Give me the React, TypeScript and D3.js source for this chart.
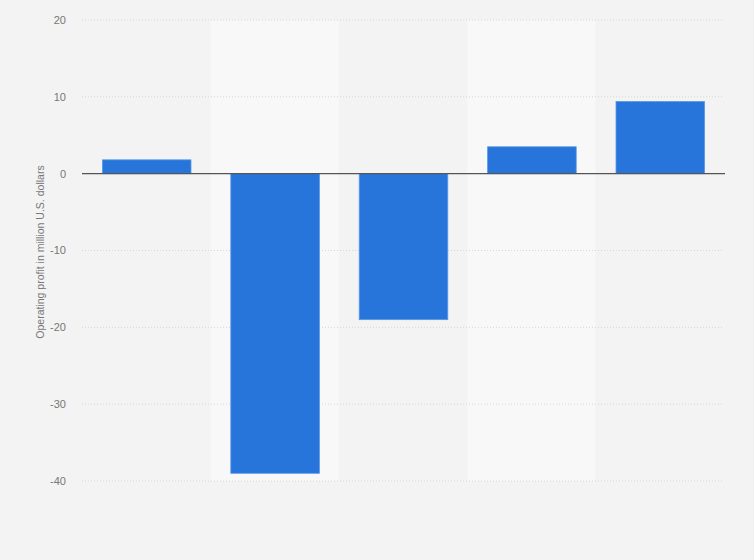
import React from 'react'
import * as d3 from 'd3'

const categories = ['2015', '2016', '2017', '2018', '2019']
const profits = [1.8, -39.0, -19.0, 3.5, 9.4]
const yTicks = [20, 10, 0, -10, -20, -30, -40]

const width = 754
const height = 560
const margin = { top: 20, right: 30, bottom: 79, left: 82 }

export default function App() {
    const xScale = d3
        .scaleBand()
        .domain(categories)
        .range([margin.left, width - margin.right])
        .paddingInner(0.31)
        .paddingOuter(0.155)

    const yScale = d3
        .scaleLinear()
        .domain([-40, 20])
        .range([height - margin.bottom, margin.top])

    const step = xScale.step()
    const bandStart = (c: string) => xScale(c)! - (step - xScale.bandwidth()) / 2

    return (
        <svg
            width={width}
            height={height}
            style={{ position: 'fixed', left: 0, top: 0, background: '#f3f3f3' }}
            fontFamily="'Liberation Sans', Arial, sans-serif"
        >
            {/* alternating column bands */}
            {categories.map((c, i) =>
                i % 2 === 1 ? (
                    <rect
                        key={c}
                        x={bandStart(c)}
                        y={yScale(20)}
                        width={step}
                        height={yScale(-40) - yScale(20)}
                        fill="#f8f8f8"
                    />
                ) : null
            )}

            {/* gridlines + tick labels */}
            {yTicks.map(t => (
                <g key={t}>
                    {t !== 0 && (
                        <line
                            x1={margin.left}
                            x2={width - margin.right}
                            y1={yScale(t)}
                            y2={yScale(t)}
                            stroke="#d6d6d6"
                            strokeDasharray="1,2"
                        />
                    )}
                    <text
                        x={66}
                        y={yScale(t)}
                        dy="0.35em"
                        textAnchor="end"
                        fontSize={11}
                        fill="#777"
                    >
                        {t}
                    </text>
                </g>
            ))}

            {profits.map((v, i) => (
                <rect
                    key={categories[i]}
                    x={xScale(categories[i])! + 0.5}
                    y={yScale(Math.max(0, v))}
                    width={xScale.bandwidth()}
                    height={Math.abs(yScale(v) - yScale(0))}
                    fill="#2775db"
                    stroke="#5c98e8"
                    strokeWidth={0.8}
                />
            ))}

            {/* zero line */}
            <line
                x1={margin.left}
                x2={width - margin.right + 1}
                y1={yScale(0)}
                y2={yScale(0)}
                stroke="#555"
                strokeWidth={1.2}
            />

            <text
                transform={`translate(44, ${yScale(-10.2)}) rotate(-90)`}
                textAnchor="middle"
                fontSize={10.5}
                fill="#777"
            >
                Operating profit in million U.S. dollars
            </text>
        </svg>
    )
}
